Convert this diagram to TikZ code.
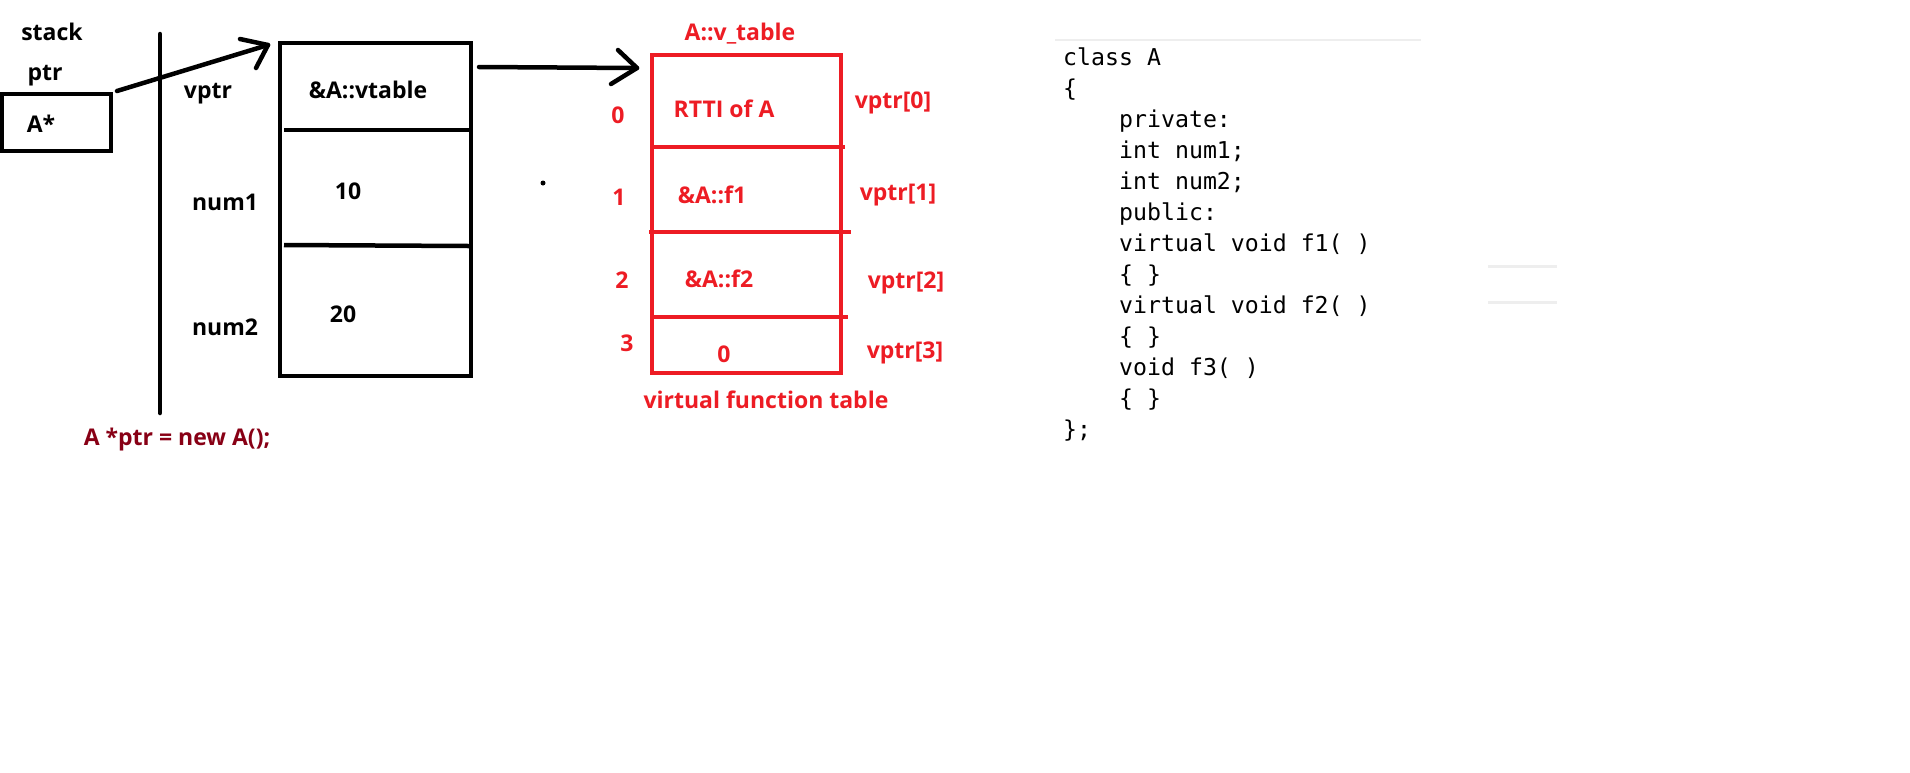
\documentclass[tikz,border=0pt]{standalone}
\usepackage{fontspec}
\setmainfont{Open Sans}
\newfontfamily\codefont{DejaVu Sans Mono}
\definecolor{pred}{HTML}{ED1C24}
\definecolor{pdred}{HTML}{880015}
\definecolor{lgray}{HTML}{EEEEEE}
\begin{document}
\begin{tikzpicture}[x=1pt,y=-1pt,
  lbl/.style={font=\fontsize{23}{23}\selectfont\bfseries, inner sep=0, anchor=base},
  rlbl/.style={lbl, text=pred},
  blk/.style={draw=black, line width=4.5pt},
  redbox/.style={draw=pred, line width=4pt},
  codeline/.style={font=\codefont\fontsize{23.2}{23.2}\selectfont, inner sep=0, anchor=base west},
  conn/.style={line width=4.5pt, line cap=round, line join=round}
]
\useasboundingbox (0,0) rectangle (1910,772);

% stack side
\node[lbl] (stacklbl) at (52,40) {stack};
\node[lbl] (ptrlbl) at (45,80) {ptr};
\node[blk, minimum width=109pt, minimum height=57pt, inner sep=0] (ptrbox) at (56.5,122.5) {};
\node[lbl] (astar) at (41,132) {A*};
\coordinate (sepT) at (160,34);
\coordinate (sepB) at (160,413);
\draw[conn] (sepT) -- (sepB);

% object on heap
\node[blk, minimum width=191pt, minimum height=333pt, inner sep=0] (obj) at (375.5,209.5) {};
\coordinate (d1a) at (284,130); \coordinate (d1b) at (469,130);
\coordinate (d2a) at (284,245); \coordinate (d2b) at (469,246);
\draw[line width=4.5pt] (d1a) -- (d1b);
\draw[line width=4.5pt] (d2a) -- (d2b);
\node[lbl] (vptrlbl) at (208,98) {vptr};
\node[lbl] (vtab) at (368,98) {\&A::vtable};
\node[lbl] (num1) at (225,210) {num1};
\node[lbl] (v10) at (348,199) {10};
\node[lbl] (num2) at (225,335) {num2};
\node[lbl] (v20) at (343,322) {20};
\node[lbl, text=pdred] (decl) at (177,445) {A *ptr = new A();};

% arrow ptr -> obj
\coordinate (a1s) at (117,91);
\coordinate (a1t) at (268,45);
\coordinate (a1b1) at (240,39);
\coordinate (a1b2) at (256,68);
\draw[conn] (a1s) -- (a1t);
\draw[conn] (a1b1) -- (a1t) -- (a1b2);

% arrow obj -> vtable
\coordinate (a2s) at (479,67);
\coordinate (a2t) at (637,68);
\coordinate (a2b1) at (618,50);
\coordinate (a2b2) at (611,84);
\draw[conn] (a2s) -- (a2t);
\draw[conn] (a2b1) -- (a2t) -- (a2b2);

% dot
\fill (543,183) circle (2.5);

% virtual table
\node[redbox, minimum width=189pt, minimum height=318pt, inner sep=0] (vt) at (746.5,214) {};
\coordinate (r1a) at (653,147); \coordinate (r1b) at (845,147);
\coordinate (r2a) at (649,232); \coordinate (r2b) at (851,232);
\coordinate (r3a) at (651,317); \coordinate (r3b) at (848,317);
\draw[draw=pred, line width=4pt] (r1a) -- (r1b);
\draw[draw=pred, line width=4pt] (r2a) -- (r2b);
\draw[draw=pred, line width=4pt] (r3a) -- (r3b);
\node[rlbl] (vtname) at (740,40) {A::v\_table};
\node[rlbl] (i0) at (618,123) {0};
\node[rlbl] (rtti) at (724,117) {RTTI of A};
\node[rlbl] (vp0) at (893,108) {vptr[0]};
\node[rlbl] (i1) at (619,205) {1};
\node[rlbl] (f1) at (712,203) {\&A::f1};
\node[rlbl] (vp1) at (898,200) {vptr[1]};
\node[rlbl] (i2) at (622,288) {2};
\node[rlbl] (f2) at (719,287) {\&A::f2};
\node[rlbl] (vp2) at (906,288) {vptr[2]};
\node[rlbl] (i3) at (627,351) {3};
\node[rlbl] (z3) at (724,362) {0};
\node[rlbl] (vp3) at (905,358) {vptr[3]};
\node[rlbl] (vftcap) at (766,408) {virtual function table};

% code
\coordinate (g1a) at (1055,40); \coordinate (g1b) at (1421,40);
\draw[lgray, line width=2.5pt] (g1a) -- (g1b);
\coordinate (g2a) at (1488,266); \coordinate (g2b) at (1557,266);
\coordinate (g3a) at (1488,302); \coordinate (g3b) at (1557,302);
\draw[lgray, line width=3pt] (g2a) -- (g2b);
\draw[lgray, line width=3pt] (g3a) -- (g3b);
\node[codeline] (c0) at (1063,65) {class A};
\node[codeline] (c1) at (1063,96) {\{};
\node[codeline] (c2) at (1119,127) {private:};
\node[codeline] (c3) at (1119,158) {int num1;};
\node[codeline] (c4) at (1119,189) {int num2;};
\node[codeline] (c5) at (1119,220) {public:};
\node[codeline] (c6) at (1119,251) {virtual void f1( )};
\node[codeline] (c7) at (1119,282) {\{ \}};
\node[codeline] (c8) at (1119,313) {virtual void f2( )};
\node[codeline] (c9) at (1119,344) {\{ \}};
\node[codeline] (c10) at (1119,375) {void f3( )};
\node[codeline] (c11) at (1119,406) {\{ \}};
\node[codeline] (c12) at (1063,437) {\};};
\end{tikzpicture}
\end{document}
